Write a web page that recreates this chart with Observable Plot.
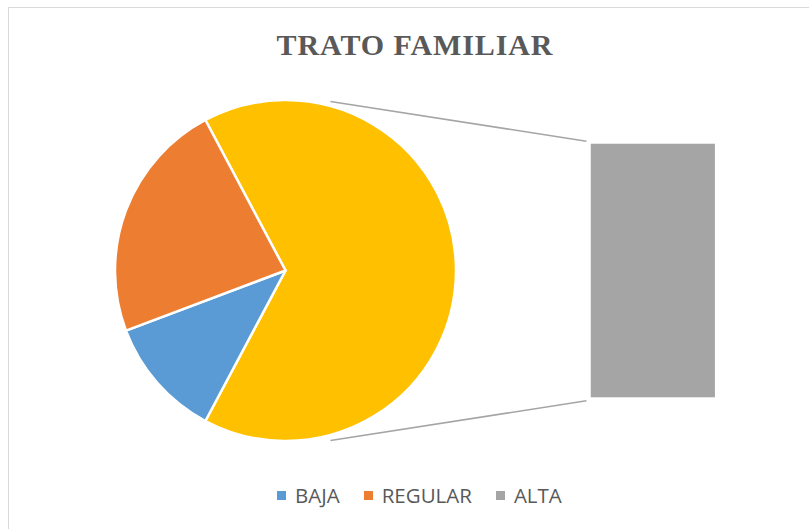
<!DOCTYPE html>
<html><head><meta charset="utf-8">
<script src="https://cdn.jsdelivr.net/npm/d3@7"></script>
<script src="https://cdn.jsdelivr.net/npm/@observablehq/plot@0.6"></script>
<style>
html,body{margin:0;padding:0;background:#fff;width:809px;height:529px;overflow:hidden;position:relative}
#frame{position:absolute;left:8px;top:7px;width:830px;height:560px;border:1px solid #d9d9d9;box-sizing:border-box}
#title{position:absolute;left:8px;width:814px;top:30px;text-align:center;font-family:"Liberation Serif","Times New Roman",serif;font-weight:bold;font-size:30px;line-height:30px;color:#595959;letter-spacing:0.9px;white-space:nowrap}
#chart{position:absolute;left:0;top:90px}
#legend{position:absolute;top:485px;left:277px;display:flex;align-items:center;font-family:"Open Sans",sans-serif;font-size:20.5px;line-height:20px;color:#595959;white-space:nowrap}
#legend .item{display:flex;align-items:center;margin-right:24px}
#legend .sw{width:9px;height:9px;margin-right:9px;display:inline-block}
</style>
</head><body>
<div id="frame"></div>
<div id="title"></div>
<div id="chart"></div>
<div id="legend"></div>
<script>
// ---- data ----
const title = "TRATO FAMILIAR";
const categories = ["BAJA", "REGULAR", "ALTA"];
const values = [7, 14, 40];
const colors = ["#5B9BD5", "#ED7D31", "#A5A5A5"];
const barGroup = ["ALTA"];          // categories split off into the bar
const otherColor = "#FFC000";        // colour of the combined "other" slice

// ---- layout (units = pie radius) ----
const W = 809, H = 370, R = 170.5;
const cxPx = 285.5, cyPx = 180.5;
const barLeft = 1.786, barRight = 2.523, barHalf = 0.748;

document.getElementById("title").textContent = title;

const data = categories.map((c, i) => ({category: c, value: values[i], color: colors[i]}));
const inBar = data.filter(d => barGroup.includes(d.category));
const inPie = data.filter(d => !barGroup.includes(d.category));
const otherTotal = d3.sum(inBar, d => d.value);
const total = d3.sum(data, d => d.value);

const pieData = [{category: "Otro", value: otherTotal, color: otherColor}, ...inPie];
const a0 = Math.PI / 2 - Math.PI * otherTotal / total;
const arcs = d3.pie().sort(null).value(d => d.value).startAngle(a0).endAngle(a0 + 2 * Math.PI)(pieData);

// bar: stacked members of the "other" group, scaled to full bar height
const barScale = d3.scaleLinear([0, otherTotal], [-barHalf, barHalf]);
let acc = 0;
const barRects = inBar.map(d => {
  const r = {category: d.category, color: d.color, y1: barScale(acc), y2: barScale(acc + d.value)};
  acc += d.value;
  return r;
});

// connector lines
const startAng = 14.7 * Math.PI / 180, startRad = 1.028;
const connectors = [1, -1].map(s => ({
  x1: startRad * Math.sin(startAng), y1: s * startRad * Math.cos(startAng),
  x2: barLeft - 0.024, y2: s * (barHalf + 0.013)
}));

const xDom = [-cxPx / R, (W - cxPx) / R];
const yDom = [-(H - cyPx) / R, cyPx / R];

function pieMark(index, scales) {
  const x = scales.x, y = scales.y;
  const cx = x(0), cy = y(0), r = x(1) - x(0);
  const arc = d3.arc().innerRadius(0).outerRadius(r);
  const g = d3.create("svg:g").attr("transform", `translate(${cx},${cy})`);
  g.selectAll("path").data(arcs).join("path")
    .attr("d", arc)
    .attr("fill", d => d.data.color)
    .attr("stroke", "#fff")
    .attr("stroke-width", 2.5)
    .attr("stroke-linejoin", "round");
  return g.node();
}

const chart = Plot.plot({
  width: W, height: H,
  margin: 0,
  x: {domain: xDom, axis: null},
  y: {domain: yDom, axis: null},
  style: {background: "transparent", overflow: "visible"},
  marks: [
    Plot.link(connectors, {x1: "x1", y1: "y1", x2: "x2", y2: "y2", stroke: "#A5A5A5", strokeWidth: 1.5}),
    pieMark,
    Plot.rect(barRects, {x1: barLeft, x2: barRight, y1: "y1", y2: "y2", fill: d => d.color, stroke: "#fff", strokeWidth: 1.5})
  ]
});
document.getElementById("chart").appendChild(chart);

// legend
const leg = d3.select("#legend");
const items = leg.selectAll(".item").data(data).join("div").attr("class", "item");
items.append("span").attr("class", "sw").style("background", d => d.color);
items.append("span").text(d => d.category);
</script>
</body></html>
